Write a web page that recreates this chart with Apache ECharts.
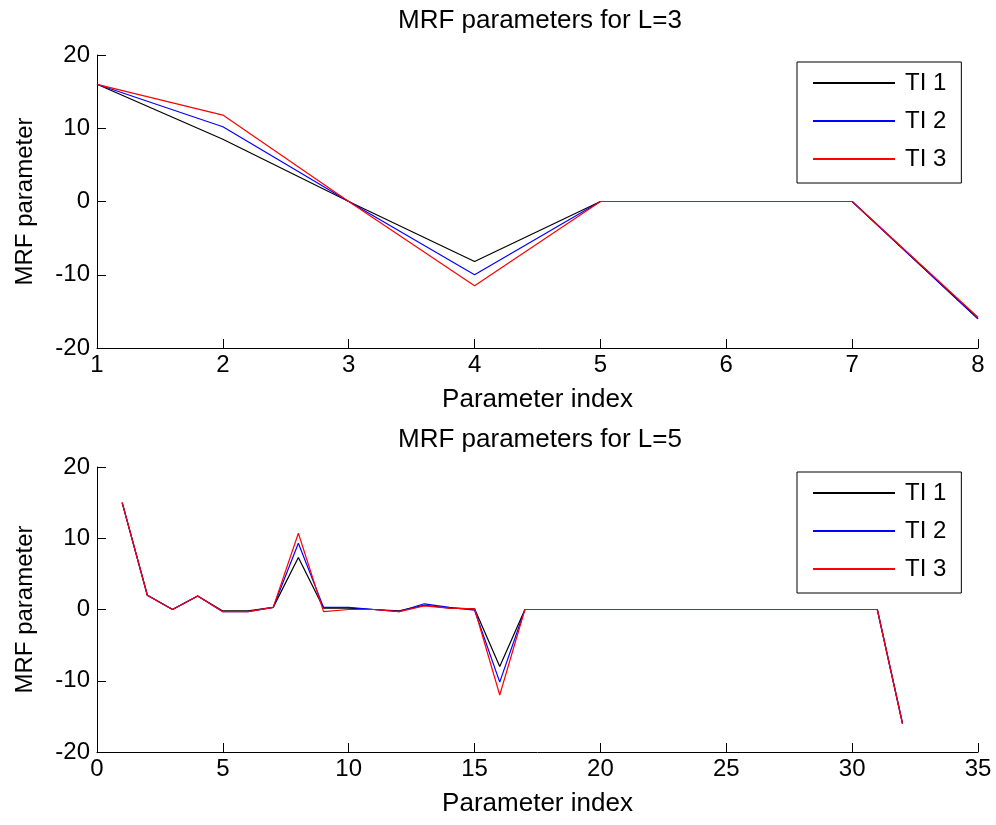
<!DOCTYPE html>
<html>
<head>
<meta charset="utf-8">
<script src="https://cdn.jsdelivr.net/npm/echarts@6/dist/echarts.min.js"></script>
<style>html,body{margin:0;padding:0;background:#fff}#c{width:996px;height:825px}</style>
</head>
<body>
<div id="c"></div>
<script>
// ---- data ----
const seriesNames = ['TI 1', 'TI 2', 'TI 3'];
const topIndex = [1, 2, 3, 4, 5, 6, 7, 8];
const topTI1 = [16, 8.5, 0, -8.2, 0, 0, 0, -16];
const topTI2 = [16, 10.2, 0, -10, 0, 0, 0, -16];
const topTI3 = [16, 11.8, 0, -11.5, 0, 0, 0, -15.8];

const botIndex = [1,2,3,4,5,6,7,8,9,10,11,12,13,14,15,16,17,18,19,20,21,22,23,24,25,26,27,28,29,30,31,32];
const botTI1 = [15, 2, 0, 1.9, -0.2, -0.2, 0.3, 7.3, 0.2, 0.2, 0, -0.2, 0.6, 0.2, 0.1, -8, 0,0,0,0,0,0,0,0,0,0,0,0,0,0,0, -16];
const botTI2 = [15, 2, 0, 1.9, -0.3, -0.3, 0.3, 9.3, 0.3, 0.3, 0, -0.3, 0.8, 0.3, -0.1, -10.2, 0,0,0,0,0,0,0,0,0,0,0,0,0,0,0, -16];
const botTI3 = [15, 2, 0, 1.9, -0.3, -0.3, 0.3, 10.7, -0.3, 0, 0, -0.3, 0.5, 0.2, 0.1, -12, 0,0,0,0,0,0,0,0,0,0,0,0,0,0,0, -16];

const titles = ['MRF parameters for L=3', 'MRF parameters for L=5'];
const xName = 'Parameter index';
const yName = 'MRF parameter';
const colors = ['#000000', '#0000ff', '#ff0000'];

// ---- chart ----
const FONT = 'Liberation Sans';
const FS = 24;
const FS_T = 26;
const pair = (xs, ys) => xs.map((x, i) => [x, ys[i]]);

function xAxisCfg(gi, min, max, interval) {
  return {
    type: 'value', gridIndex: gi, min: min, max: max, interval: interval,
    name: xName, nameLocation: 'middle', nameGap: 39,
    nameTextStyle: { fontSize: FS_T, color: '#000', fontFamily: FONT },
    axisLine: { show: true, onZero: false, lineStyle: { color: '#000', width: 1 } },
    axisTick: { show: true, inside: true, length: 9, lineStyle: { color: '#000' } },
    axisLabel: { fontSize: FS, color: '#000', fontFamily: FONT, margin: 5 },
    splitLine: { show: false }
  };
}
function yAxisCfg(gi) {
  return {
    type: 'value', gridIndex: gi, min: -20, max: 20, interval: 10,
    name: yName, nameLocation: 'middle', nameGap: 60, nameRotate: 90,
    nameTextStyle: { fontSize: FS, color: '#000', fontFamily: FONT },
    axisLine: { show: true, onZero: false, lineStyle: { color: '#000', width: 1 } },
    axisTick: { show: true, inside: true, length: 9, lineStyle: { color: '#000' } },
    axisLabel: { fontSize: FS, color: '#000', fontFamily: FONT, margin: 7 },
    splitLine: { show: false }
  };
}
function lineSeries(name, gi, data, color) {
  return {
    name: name, type: 'line', xAxisIndex: gi, yAxisIndex: gi,
    data: data, symbol: 'none', showSymbol: false, animation: false,
    lineStyle: { color: color, width: 1.2 }, itemStyle: { color: color }
  };
}
function legendCfg(top) {
  return {
    data: seriesNames, orient: 'vertical', left: 797, top: top,
    icon: 'rect', itemWidth: 82, itemHeight: 2, itemGap: 14,
    padding: [9, 15, 12, 16],
    borderColor: '#000', borderWidth: 1, backgroundColor: '#fff',
    textStyle: { fontSize: FS, color: '#000', fontFamily: FONT, lineHeight: 24, padding: [0, 0, 0, 5] }
  };
}

const option = {
  animation: false,
  backgroundColor: '#fff',
  textStyle: { fontFamily: FONT },
  title: [
    { text: titles[0], left: 535, top: 3, textAlign: 'center', textStyle: { fontSize: FS_T, fontWeight: 'normal', color: '#000', fontFamily: FONT } },
    { text: titles[1], left: 535, top: 422, textAlign: 'center', textStyle: { fontSize: FS_T, fontWeight: 'normal', color: '#000', fontFamily: FONT } }
  ],
  grid: [
    { left: 97, right: 18, top: 55, height: 293, containLabel: false },
    { left: 97, right: 18, top: 467, height: 285, containLabel: false }
  ],
  xAxis: [xAxisCfg(0, 1, 8, 1), xAxisCfg(1, 0, 35, 5)],
  yAxis: [yAxisCfg(0), yAxisCfg(1)],
  legend: [legendCfg(62), legendCfg(472)],
  series: [
    lineSeries(seriesNames[0], 0, pair(topIndex, topTI1), colors[0]),
    lineSeries(seriesNames[1], 0, pair(topIndex, topTI2), colors[1]),
    lineSeries(seriesNames[2], 0, pair(topIndex, topTI3), colors[2]),
    lineSeries(seriesNames[0], 1, pair(botIndex, botTI1), colors[0]),
    lineSeries(seriesNames[1], 1, pair(botIndex, botTI2), colors[1]),
    lineSeries(seriesNames[2], 1, pair(botIndex, botTI3), colors[2])
  ]
};
const chart = echarts.init(document.getElementById('c'), null, { renderer: 'canvas' });
chart.setOption(option);
</script>
</body>
</html>
